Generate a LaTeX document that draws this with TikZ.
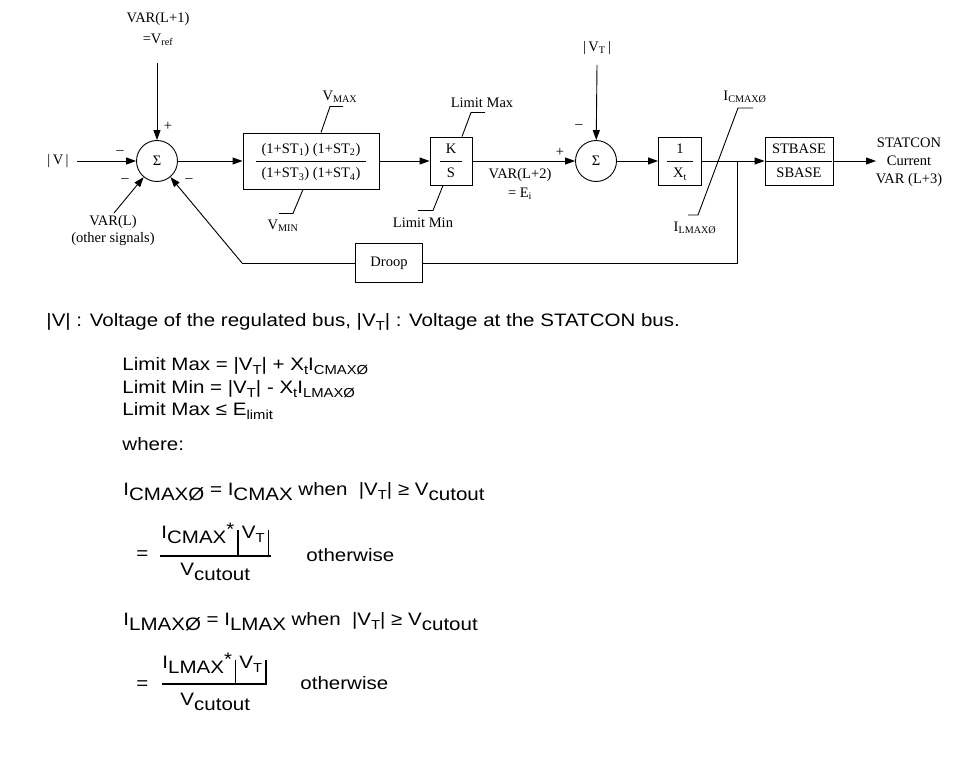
\documentclass[tikz,border=0pt]{standalone}
\usepackage{fontspec}
\setmainfont{Liberation Serif}
\newfontfamily\eqfont[FakeStretch=1.14]{Liberation Sans}
\usetikzlibrary{arrows.meta}
\newcommand\lo[1]{\raisebox{-5pt}{#1}}
\newcommand\sm[1]{\raisebox{-4pt}{\fontsize{13}{13}\selectfont #1}}
\newcommand\blockfrac[2]{\renewcommand\arraystretch{1.4}\begin{tabular}{c}#1\\\hline #2\end{tabular}}
\begin{document}
\begin{tikzpicture}
[x=1pt,y=-1pt,line width=0.9pt,
 every node/.style={font=\fontsize{14.5}{17}\selectfont},
 lbl/.style={inner sep=0pt},
 blk/.style={draw,inner sep=0pt,minimum height=48pt},
 sumnode/.style={draw,circle,inner sep=0pt,minimum size=41pt},
 sig/.style={-{Triangle[length=10pt,width=7pt]}},
 eqtext/.style={anchor=base west,inner sep=0pt,font=\eqfont\fontsize{18}{22}\selectfont}]
\useasboundingbox (0,0) rectangle (958,773);
%% summing points and blocks
\node[sumnode] (sum1) at (157,161) {Σ};
\node[blk,minimum width=136pt,minimum height=56pt] (tf) at (311,161)
  {\blockfrac{(1+ST\textsubscript{1}) (1+ST\textsubscript{2})}{(1+ST\textsubscript{3}) (1+ST\textsubscript{4})}};
\node[blk,minimum width=42pt] (ks) at (451,161) {\blockfrac{K}{S}};
\node[sumnode] (sum2) at (596,161) {Σ};
\node[blk,minimum width=43pt] (xt) at (680,161) {\blockfrac{1}{X\textsubscript{t}}};
\node[blk,minimum width=68pt] (sb) at (799,161) {\blockfrac{STBASE}{SBASE}};
\node[blk,minimum width=67pt,minimum height=39pt] (droop) at (389,263) {Droop};
%% signal labels
\node[lbl,align=center] (vref) at (158,29) {VAR(L+1)\\[4pt]=V\textsubscript{ref}};
\node[lbl] (vin) at (58,161) {|\,V\,|};
\node[lbl,align=center] (varl) at (113,231) {VAR(L)\\(other signals)};
\node[lbl] (vmax) at (340,97) {V\textsubscript{MAX}};
\node[lbl] (vmin) at (283,226) {V\textsubscript{MIN}};
\node[lbl] (lmax) at (482,103) {Limit Max};
\node[lbl] (lmin) at (423,223) {Limit Min};
\node[lbl,align=center] (ei) at (520,184) {VAR(L+2)\\[2pt]= E\textsubscript{i}};
\node[lbl] (vt) at (597,48) {|\,V\textsubscript{T}\,|};
\node[lbl] (icmax) at (745,97) {I\textsubscript{CMAXØ}};
\node[lbl] (ilmax) at (695,228) {I\textsubscript{LMAXØ}};
\node[lbl,align=center] (outl) at (909,162) {STATCON\\[1pt]Current\\[1pt]VAR (L+3)};
%% signs at the summing points
\foreach \nm/\px/\py/\sg in {pa/168/126/+, ma/120/153/–, mb/125/181/–,
  mc/189/181/–, md/579/127/–, pb/560/152/+}
  \node[lbl] (\nm) at (\px,\py) {\sg};
%% free ends
\coordinate (vrefend) at (157,63);
\coordinate (vinend) at (77,161);
\coordinate (varlend) at (114,213);
\coordinate (vtend) at (597,65);
\coordinate (jn) at (737,161);
\coordinate (outend) at (876,161);
\coordinate (fbk) at (242,263);
%% connectors
\draw[sig] (vrefend) -- (sum1);
\draw[sig] (vinend) -- (sum1);
\draw[sig] (varlend) -- (sum1);
\draw[sig] (sum1) -- (tf);
\draw[sig] (tf) -- (ks);
\draw[sig] (ks) -- (sum2);
\draw[sig] (vtend) -- (sum2);
\draw[sig] (sum2) -- (xt);
\draw (xt) -- (jn);
\draw[sig] (jn) -- (sb);
\draw[sig] (sb) -- (outend);
\draw (jn) |- (droop);
\draw (droop) -- (fbk);
\draw[sig] (fbk) -- (sum1);
%% limit leaders
\draw ([xshift=10pt]tf.north) -- ++(9,-26) -- ++(13,0);
\draw ([xshift=-8pt]tf.south) -- ++(-10,24) -- ++(-14,0);
\draw ([xshift=11pt]ks.north) -- ++(9,-24) -- ++(14,0);
\draw ([xshift=-8pt]ks.south) -- ++(-10,25) -- ++(-15,0);
\draw (688,215) -- (698,215) -- (738,108) -- (753,108);
%% equations
\node[eqtext] (leg) at (46,326) {|V| : Voltage of the regulated bus, |V\sm{T}| : Voltage at the STATCON bus.};
\node[eqtext] (eqa) at (122,370) {Limit Max = |V\sm{T}| + X\sm{t}I\sm{CMAXØ}};
\node[eqtext] (eqb) at (122,393) {Limit Min = |V\sm{T}| - X\sm{t}I\sm{LMAXØ}};
\node[eqtext] (eqc) at (122,415) {Limit Max ≤ E\sm{limit}};
\node[eqtext] (eqd) at (122,450) {where:};
\node[eqtext] (eqe) at (123,495) {I\lo{CMAXØ} = I\lo{CMAX} when \ |V\sm{T}| ≥ V\lo{cutout}};
\node[eqtext] (eqf) at (136,559) {=};
\node[eqtext] (numa) at (161,538)
  {I\lo{CMAX}\raisebox{3pt}{*}\,\rule[-17pt]{1.4pt}{25pt}\,V\sm{T}\,\rule[-17pt]{1.4pt}{25pt}};
\node[eqtext] (dena) at (180,575) {V\lo{cutout}};
\draw[line width=1.6pt] (160,556) -- (271,556);
\node[eqtext] (otha) at (306,561) {otherwise};
\node[eqtext] (eqg) at (123,625) {I\lo{LMAXØ} = I\lo{LMAX} when \ |V\sm{T}| ≥ V\lo{cutout}};
\node[eqtext] (eqh) at (136,689) {=};
\node[eqtext] (numb) at (162,668)
  {I\lo{LMAX}\raisebox{3pt}{*}\,\rule[-16pt]{1.4pt}{24pt}\,V\sm{T}\,\rule[-16pt]{1.4pt}{24pt}};
\node[eqtext] (denb) at (180,705) {V\lo{cutout}};
\draw[line width=1.6pt] (162,684) -- (267,684);
\node[eqtext] (othb) at (300,689) {otherwise};
\end{tikzpicture}
\end{document}
